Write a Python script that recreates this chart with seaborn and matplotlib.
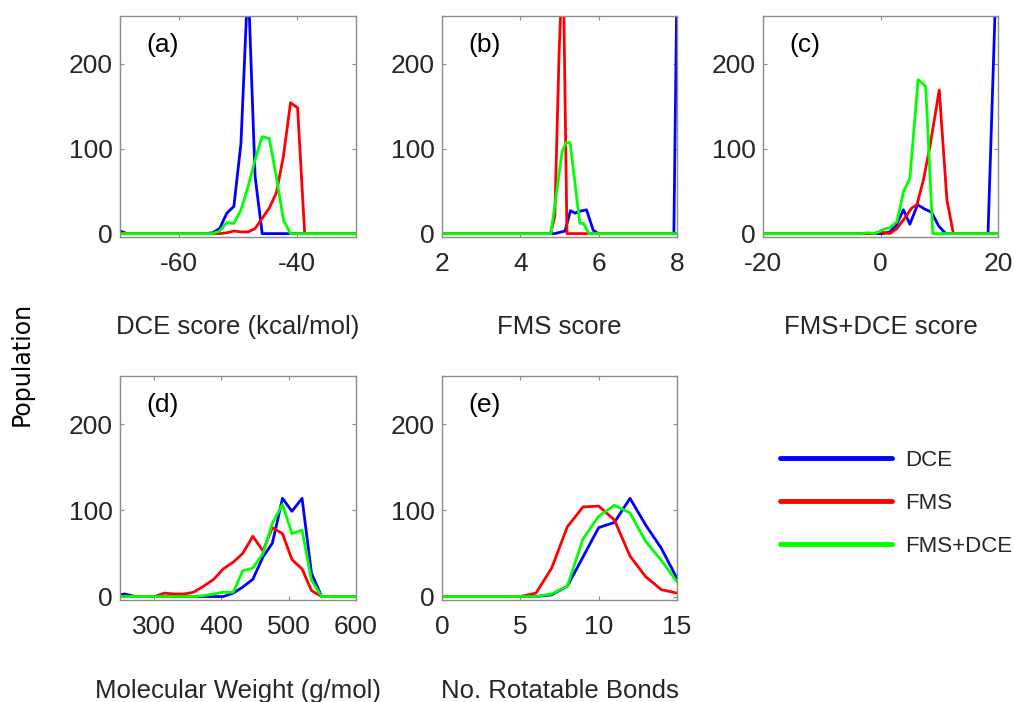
import numpy as np
import pandas as pd
import matplotlib
matplotlib.use("Agg")
import matplotlib.pyplot as plt
from matplotlib.lines import Line2D
import seaborn as sns

# ---------------- data ----------------
methods = ["DCE", "FMS", "FMS+DCE"]
colors = {"DCE": "#0000ff", "FMS": "#ff0000", "FMS+DCE": "#00ff00"}

# (a) DCE score (kcal/mol)
dce_x_blue = [-70, -68.8, -55.5, -54.3, -53.1, -51.9, -50.7, -49.5, -48.3, -47.1, -45.9, -30]
dce_y_blue = [3, 0, 0, 1, 6, 24, 32, 106, 300, 67, 0, 0]
dce_x_red = [-70, -53.1, -51.9, -50.7, -49.5, -48.3, -47.1, -45.9, -44.7, -43.5, -42.3, -41.1, -39.9, -38.7, -30]
dce_y_red = [0, 0, 1, 3, 2, 2, 6, 18, 30, 48, 91, 154, 148, 0, 0]
dce_x_green = [-70, -54.3, -53.1, -51.9, -50.7, -49.5, -48.3, -47.1, -45.9, -44.7, -43.5, -42.3, -41.1, -30]
dce_y_green = [0, 0, 3, 13, 12, 28, 55, 87, 114, 112, 67, 16, 0, 0]

# (b) FMS score
fms_x_blue = [2, 4.88, 5.14, 5.28, 5.40, 5.48, 5.69, 5.86, 5.99, 7.92, 8.0]
fms_y_blue = [0, 0, 3, 27, 24, 26, 28, 4, 0, 0, 300]
fms_x_red = [2, 4.77, 4.88, 4.99, 5.09, 5.19, 8]
fms_y_red = [0, 0, 20, 213, 330, 0, 0]
fms_x_green = [2, 4.78, 5.07, 5.17, 5.27, 5.52, 5.61, 5.75, 8]
fms_y_green = [0, 0, 97, 107, 107, 12, 12, 0, 0]

# (c) FMS+DCE score
comb_x_blue = [-20, 0.4, 1.6, 2.7, 3.9, 5.0, 6.3, 7.5, 8.7, 9.9, 11.1, 18.3, 20]
comb_y_blue = [0, 0, 2, 10, 28, 11, 34, 29, 25, 9, 0, 0, 370]
comb_x_red = [-20, -1.2, -0.1, 1.6, 2.8, 4.1, 5.3, 6.2, 7.3, 8.4, 10.0, 11.3, 12.4, 20]
comb_y_red = [0, 0, 2, 0, 6, 18, 30, 34, 63, 102, 169, 40, 0, 0]
comb_x_green = [-20, -3.3, -2.1, -0.9, 0.5, 1.6, 2.8, 3.9, 5.0, 6.4, 7.7, 8.9, 20]
comb_y_green = [0, 0, 1, 0, 5, 7, 14, 49, 65, 181, 173, 0, 0]

# (d) Molecular weight (g/mol)
mw_x_blue = [250, 257, 272, 403, 418, 432, 447, 462, 476, 491, 505, 520, 534, 549, 600]
mw_y_blue = [2, 3, 0, 0, 4, 11, 20, 46, 62, 114, 99, 114, 27, 0, 0]
mw_x_red = [250, 301, 316, 330, 345, 359, 374, 389, 403, 418, 432, 447, 462, 476, 491, 505, 520, 534, 549, 600]
mw_y_red = [0, 0, 4, 3, 3, 5, 12, 20, 32, 40, 50, 70, 53, 80, 73, 43, 32, 7, 0, 0]
mw_x_green = [250, 359, 374, 389, 403, 418, 432, 447, 462, 476, 491, 505, 520, 534, 549, 600]
mw_y_green = [0, 0, 1, 3, 5, 5, 30, 33, 50, 85, 107, 73, 77, 19, 0, 0]

# (e) Number of rotatable bonds
rb_x = [0, 1, 2, 3, 4, 5, 6, 7, 8, 9, 10, 11, 12, 13, 14, 15]
rb_y_blue = [0, 0, 0, 0, 0, 0, 0, 2, 12, 46, 80, 86, 114, 83, 56, 21]
rb_y_red = [0, 0, 0, 0, 0, 0, 4, 33, 81, 104, 105, 89, 47, 23, 8, 4]
rb_y_green = [0, 0, 0, 0, 0, 0, 0, 3, 12, 67, 93, 106, 97, 64, 42, 17]


def long_frame(xb, yb, xr, yr, xg, yg):
    parts = []
    for name, xs, ys in zip(methods, (xb, xr, xg), (yb, yr, yg)):
        parts.append(pd.DataFrame({"x": xs, "count": ys, "method": name}))
    return pd.concat(parts, ignore_index=True)


panels = [
    dict(tag="(a)", xlabel="DCE score (kcal/mol)", xlim=(-70, -30), xticks=[-60, -40],
         data=long_frame(dce_x_blue, dce_y_blue, dce_x_red, dce_y_red, dce_x_green, dce_y_green)),
    dict(tag="(b)", xlabel="FMS score", xlim=(2, 8), xticks=[2, 4, 6, 8],
         data=long_frame(fms_x_blue, fms_y_blue, fms_x_red, fms_y_red, fms_x_green, fms_y_green)),
    dict(tag="(c)", xlabel="FMS+DCE score", xlim=(-20, 20), xticks=[-20, 0, 20],
         data=long_frame(comb_x_blue, comb_y_blue, comb_x_red, comb_y_red, comb_x_green, comb_y_green)),
    dict(tag="(d)", xlabel="Molecular Weight (g/mol)", xlim=(250, 600), xticks=[300, 400, 500, 600],
         data=long_frame(mw_x_blue, mw_y_blue, mw_x_red, mw_y_red, mw_x_green, mw_y_green)),
    dict(tag="(e)", xlabel="No. Rotatable Bonds", xlim=(0, 15), xticks=[0, 5, 10, 15],
         data=long_frame(rb_x, rb_y_blue, rb_x, rb_y_red, rb_x, rb_y_green)),
]

# ---------------- style ----------------
sns.set_theme(style="white")
plt.rcParams["font.family"] = ["Liberation Sans", "DejaVu Sans"]
plt.rcParams["axes.edgecolor"] = "#8c8c8c"
plt.rcParams["axes.linewidth"] = 1.0
plt.rcParams["axes.unicode_minus"] = False

W, H = 1014, 702
fig = plt.figure(figsize=(W / 100, H / 100), dpi=100)

# axes boxes in pixels: left, top, right, bottom
boxes = [
    (120, 16, 356, 237),
    (442, 16, 677, 237),
    (763, 16, 998, 237),
    (120, 376, 356, 600),
    (442, 376, 677, 600),
]

tick_color = "#262626"
for p, (l, t, r, b) in zip(panels, boxes):
    ax = fig.add_axes([l / W, 1 - b / H, (r - l) / W, (b - t) / H])
    sns.lineplot(data=p["data"], x="x", y="count", hue="method", hue_order=methods,
                 palette=colors, estimator=None, sort=False, legend=False,
                 linewidth=2.0, ax=ax)
    ax.set_xlim(*p["xlim"])
    ax.set_ylim(-4, 256)
    ax.set_xticks(p["xticks"])
    ax.set_yticks([0, 100, 200])
    ax.tick_params(axis="both", direction="in", length=3, width=0.8, color="#8c8c8c",
                   labelsize=19, labelcolor=tick_color, top=True, right=True,
                   bottom=True, left=True)
    ax.tick_params(axis="x", pad=11)
    ax.tick_params(axis="y", pad=5)
    for s in ax.spines.values():
        s.set_visible(True)
        s.set_color("#8c8c8c")
    ax.set_ylabel("")
    ax.set_xlabel(p["xlabel"], fontsize=18.5, color=tick_color)
    height_px = b - t
    base_px = 334 if t < 100 else 698
    ax.xaxis.set_label_coords(0.5, -(base_px - b) / height_px)
    ax.xaxis.label.set_verticalalignment("baseline")
    ax.text(0.112, 0.838, p["tag"], transform=ax.transAxes, fontsize=19,
            color="black", ha="left", va="baseline")

fig.text(22 / W, 1 - 364 / H, "Population", rotation=90, fontsize=17,
         family="DejaVu Sans", ha="center", va="center", color="black")

handles = [Line2D([], [], color=colors[m], linewidth=3.5) for m in methods]
fig.legend(handles, methods, loc="upper left", bbox_to_anchor=(780 / W, 1 - 450 / H),
           frameon=False, fontsize=16, borderpad=0, borderaxespad=0,
           handlelength=5.05, handletextpad=0.6, labelspacing=0.99)

fig.savefig("out.png", dpi=100)
